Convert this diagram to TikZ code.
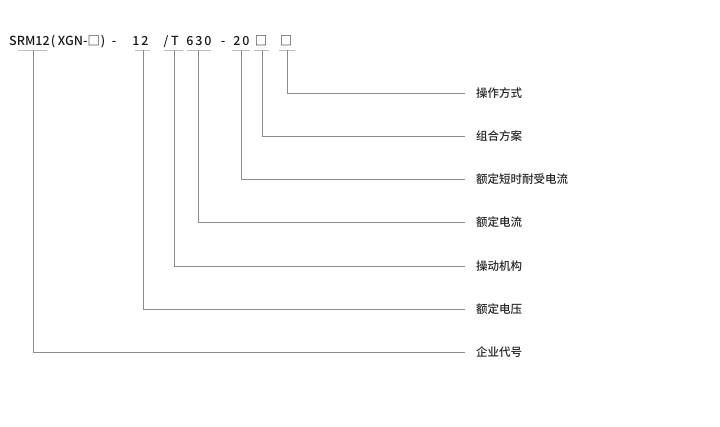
\documentclass[tikz,border=0pt]{standalone}
\usepackage{fontspec}
\setmainfont{Noto Sans CJK SC}[UprightFont={* Medium}]
\usetikzlibrary{positioning}

\begin{document}
\begin{tikzpicture}[x=1pt,y=-1pt,
  code/.style={anchor=base,inner sep=0pt,text=black!90,font=\fontsize{12.5}{15}\selectfont},
  lbl/.style={anchor=west,inner sep=0pt,text=black!85,font=\fontsize{11.5}{13}\selectfont},
  brk/.style={draw=black!25,line width=0.6pt},
  lead/.style={draw=black!45,line width=0.8pt}]
\useasboundingbox (0,0) rectangle (720,426);
% model code
\node[code,anchor=base west] (srm) at (9,45) {SRM12};
\node[code] (lp) at (53,45) {(};
\node[code] (xgn) at (79,45) {XGN-□};
\node[code] (rp) at (103,45) {)};
\node[code] (d1) at (114,45) {-};
\node[code] (n1) at (136,45) {1};
\node[code] (n2) at (145,45) {2};
\node[code] (sl) at (166,45) {/};
\node[code] (t) at (175,45) {T};
\node[code] (n6) at (190,45) {6};
\node[code] (n3) at (199,45) {3};
\node[code] (n0) at (208,45) {0};
\node[code] (d2) at (223,45) {-};
\node[code] (m2) at (237,45) {2};
\node[code] (m0) at (246,45) {0};
\node[code] (q1) at (261,45) {□};
\node[code] (q2) at (286,45) {□};
% brackets under the code
\coordinate (b1) at (33,50);
\coordinate (b2) at (143,50);
\coordinate (b3) at (174,50);
\coordinate (b4) at (198,50);
\coordinate (b5) at (241,50);
\coordinate (b6) at (262,50);
\coordinate (b7) at (287,50);
\draw[brk] (18,50) -- (47,50);
\draw[brk] (135,50) -- (150,50);
\draw[brk] (164,50) -- (183,50);
\draw[brk] (187,50) -- (211,50);
\draw[brk] (232,50) -- (250,50);
\draw[brk] (254,50) -- (269,50);
\draw[brk] (279,50) -- (295,50);
% labels
\node[lbl] (l7) at (476,93) {操作方式};
\node[lbl] (l6) at (476,136) {组合方案};
\node[lbl] (l5) at (476,179) {额定短时耐受电流};
\node[lbl] (l4) at (476,222) {额定电流};
\node[lbl] (l3) at (476,266) {操动机构};
\node[lbl] (l2) at (476,309) {额定电压};
\node[lbl] (l1) at (476,352) {企业代号};
% leaders
\draw[lead] (b7) |- ([xshift=-11pt]l7.west);
\draw[lead] (b6) |- ([xshift=-11pt]l6.west);
\draw[lead] (b5) |- ([xshift=-11pt]l5.west);
\draw[lead] (b4) |- ([xshift=-11pt]l4.west);
\draw[lead] (b3) |- ([xshift=-11pt]l3.west);
\draw[lead] (b2) |- ([xshift=-11pt]l2.west);
\draw[lead] (b1) |- ([xshift=-11pt]l1.west);
\end{tikzpicture}
\end{document}
